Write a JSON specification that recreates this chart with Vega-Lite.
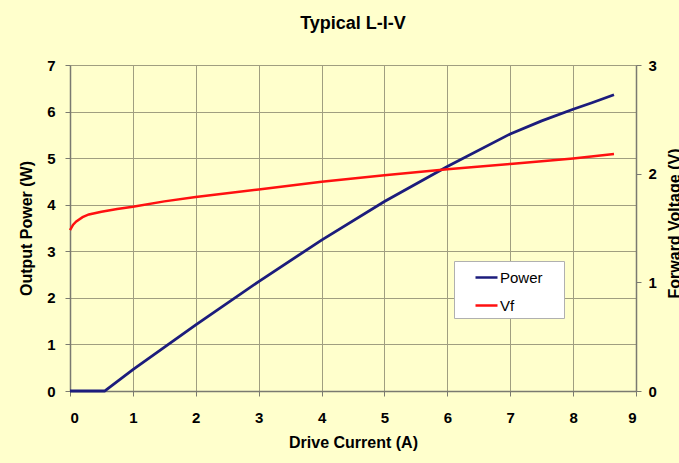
{
  "$schema": "https://vega.github.io/schema/vega-lite/v6.json",
  "autosize": {"type": "none"},
  "width": 566,
  "height": 326,
  "padding": {"left": 70, "top": 65, "right": 43, "bottom": 72},
  "background": "#FFFFCC",
  "title": {"text": "Typical L-I-V", "font": "Liberation Sans", "fontSize": 18, "fontWeight": "bold", "color": "#000000", "offset": 25, "anchor": "middle"},
  "config": {
    "view": {"fill": "#FFFFCC", "stroke": null},
    "axis": {
      "labelFont": "Liberation Sans", "labelFontSize": 15, "labelFontWeight": "bold", "labelColor": "#000000",
      "titleFont": "Liberation Sans", "titleFontSize": 16, "titleFontWeight": "bold", "titleColor": "#000000",
      "gridColor": "#a09e80", "gridOpacity": 1, "gridWidth": 1,
      "domainColor": "#7a7a70", "domainWidth": 1.5, "tickColor": "#7a7a70", "tickSize": 5
    }
  },
  "data": {"values": [
    {"series": "Power", "current": 0, "value": 0},
    {"series": "Power", "current": 0.55, "value": 0},
    {"series": "Power", "current": 1, "value": 0.46},
    {"series": "Power", "current": 2, "value": 1.42},
    {"series": "Power", "current": 3, "value": 2.35},
    {"series": "Power", "current": 4, "value": 3.24},
    {"series": "Power", "current": 5, "value": 4.07},
    {"series": "Power", "current": 6, "value": 4.82},
    {"series": "Power", "current": 7, "value": 5.52},
    {"series": "Power", "current": 7.5, "value": 5.8},
    {"series": "Power", "current": 8, "value": 6.05},
    {"series": "Power", "current": 8.3, "value": 6.19},
    {"series": "Power", "current": 8.65, "value": 6.36},
    {"series": "Vf", "current": 0, "value": 1.48},
    {"series": "Vf", "current": 0.05, "value": 1.53},
    {"series": "Vf", "current": 0.1, "value": 1.56},
    {"series": "Vf", "current": 0.2, "value": 1.6},
    {"series": "Vf", "current": 0.3, "value": 1.625},
    {"series": "Vf", "current": 0.5, "value": 1.65},
    {"series": "Vf", "current": 0.75, "value": 1.675},
    {"series": "Vf", "current": 1, "value": 1.695},
    {"series": "Vf", "current": 1.5, "value": 1.745},
    {"series": "Vf", "current": 2, "value": 1.785},
    {"series": "Vf", "current": 3, "value": 1.855},
    {"series": "Vf", "current": 4, "value": 1.925},
    {"series": "Vf", "current": 5, "value": 1.985},
    {"series": "Vf", "current": 6, "value": 2.04},
    {"series": "Vf", "current": 7, "value": 2.09},
    {"series": "Vf", "current": 8, "value": 2.14},
    {"series": "Vf", "current": 8.65, "value": 2.18}
  ]},
  "encoding": {
    "x": {"field": "current", "type": "quantitative", "scale": {"domain": [0, 9], "nice": false},
      "axis": {"title": "Drive Current (A)", "values": [0,1,2,3,4,5,6,7,8,9], "grid": true, "labelPadding": 14, "titlePadding": 9}},
    "color": {"field": "series", "type": "nominal",
      "scale": {"domain": ["Power", "Vf"], "range": ["#1c1c7c", "#ff1010"]},
      "legend": {"title": "xx", "titleOrient": "right", "titleOpacity": 0, "titlePadding": 2,
        "titleFont": "Liberation Sans", "titleFontSize": 15, "titleFontWeight": "normal",
        "orient": "none", "legendX": 384, "legendY": 196,
        "symbolType": "stroke", "symbolSize": 484, "symbolStrokeWidth": 2.5, "symbolOffset": 16,
        "labelFont": "Liberation Sans", "labelFontSize": 15, "labelColor": "#000000", "labelOffset": 1,
        "fillColor": "#ffffff", "strokeColor": "#b0b0b0", "padding": 4, "rowPadding": 7}}
  },
  "layer": [
    {
      "transform": [{"filter": "datum.series === 'Power'"}],
      "mark": {"type": "line", "strokeWidth": 2.8},
      "encoding": {
        "y": {"field": "value", "type": "quantitative", "scale": {"domain": [0, 7], "nice": false},
          "axis": {"title": "Output Power (W)", "orient": "left", "values": [0,1,2,3,4,5,6,7], "grid": true, "labelPadding": 10, "titlePadding": 12}}
      }
    },
    {
      "transform": [{"filter": "datum.series === 'Vf'"}],
      "mark": {"type": "line", "strokeWidth": 2.5},
      "encoding": {
        "y": {"field": "value", "type": "quantitative", "scale": {"domain": [0, 3], "nice": false},
          "axis": {"title": "Forward Voltage (V)", "orient": "right", "values": [0,1,2,3], "grid": false, "labelPadding": 7, "titleAngle": -90, "titleX": 38, "titleY": 158, "titleAlign": "center", "titleBaseline": "middle"}}
      }
    }
  ],
  "resolve": {"scale": {"y": "independent"}}
}
